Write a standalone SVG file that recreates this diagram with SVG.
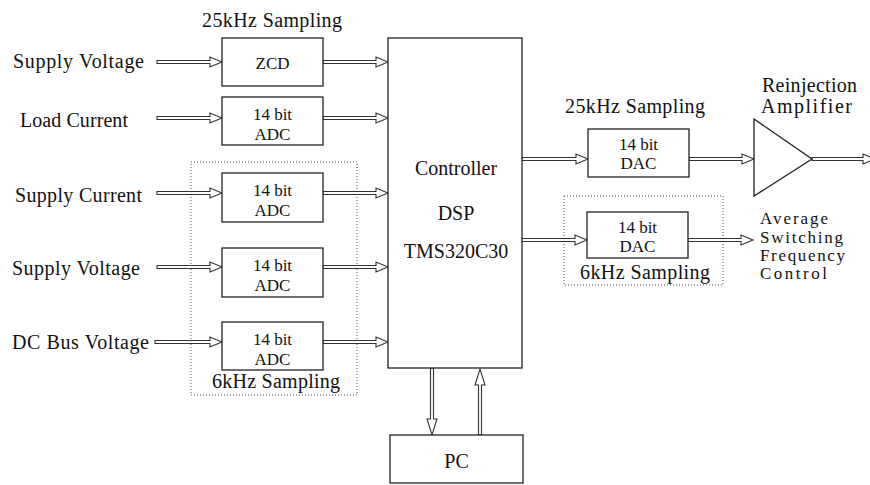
<svg xmlns="http://www.w3.org/2000/svg" width="870" height="485" viewBox="0 0 870 485" font-family="'Liberation Serif', 'Times New Roman', serif">
<style>
.lbl{font-family:"Liberation Serif","Times New Roman",serif;font-size:20px;fill:#111;}
.sm{font-family:"Liberation Serif","Times New Roman",serif;font-size:17px;fill:#111;}
.bx{font-family:"Liberation Serif","Times New Roman",serif;font-size:17px;fill:#111;text-anchor:middle;}
.box{fill:#fff;stroke:#222;stroke-width:1.3;}
.dot{fill:none;stroke:#555;stroke-width:1;stroke-dasharray:1 2;}
.arr{fill:#fff;stroke:#333;stroke-width:1.1;stroke-linejoin:miter;}
</style>
<rect width="870" height="485" fill="#fff"/>
<g id="groups">
<rect class="dot" x="191" y="162" width="166" height="233"/>
<rect class="dot" x="564" y="196" width="159" height="89"/>
<text class="lbl" x="202" y="27" textLength="140" lengthAdjust="spacing">25kHz Sampling</text>
<text class="lbl" x="212" y="388" textLength="128" lengthAdjust="spacing">6kHz Sampling</text>
<text class="lbl" x="565" y="113" textLength="140" lengthAdjust="spacing">25kHz Sampling</text>
<text class="lbl" x="580" y="279" textLength="130" lengthAdjust="spacing">6kHz Sampling</text>
</g>
<g id="inputs">
<text class="lbl" x="13" y="68" textLength="131" lengthAdjust="spacing">Supply Voltage</text>
<text class="lbl" x="20" y="127" textLength="108" lengthAdjust="spacing">Load Current</text>
<text class="lbl" x="15" y="202" textLength="127" lengthAdjust="spacing">Supply Current</text>
<text class="lbl" x="12" y="275" textLength="128" lengthAdjust="spacing">Supply Voltage</text>
<text class="lbl" x="12" y="349" textLength="137" lengthAdjust="spacing">DC Bus Voltage</text>
</g>
<g id="connectors">
<path class="arr" d="M157 60.5H210V57L222 62L210 67V63.5H157Z"/>
<path class="arr" d="M157 116.5H210V113L222 118L210 123V119.5H157Z"/>
<path class="arr" d="M157 191.5H210V188L222 193L210 198V194.5H157Z"/>
<path class="arr" d="M157 265.5H210V262L222 267L210 272V268.5H157Z"/>
<path class="arr" d="M155 340.5H210V337L222 342L210 347V343.5H155Z"/>
<path class="arr" d="M323 60.5H376V57L388 62L376 67V63.5H323Z"/>
<path class="arr" d="M323 116.5H376V113L388 118L376 123V119.5H323Z"/>
<path class="arr" d="M323 191.5H376V188L388 193L376 198V194.5H323Z"/>
<path class="arr" d="M323 265.5H376V262L388 267L376 272V268.5H323Z"/>
<path class="arr" d="M323 340.5H376V337L388 342L376 347V343.5H323Z"/>
<path class="arr" d="M522 157.5H576V154L588 159L576 164V160.5H522Z"/>
<path class="arr" d="M689 157.5H742V154L754 159L742 164V160.5H689Z"/>
<path class="arr" d="M812 157.5H863V154L875 159L863 164V160.5H812Z"/>
<path class="arr" d="M522 238.5H575V235L587 240L575 245V241.5H522Z"/>
<path class="arr" d="M688 238.5H741V235L753 240L741 245V241.5H688Z"/>
<path class="arr" d="M430.5 368V419H427L432 435L437 419H433.5V368Z"/>
<path class="arr" d="M478.5 435V385H475L480 369L485 385H481.5V435Z"/>
</g>
<g id="zcd">
<rect class="box" x="222" y="38" width="101" height="48"/>
<text class="bx" x="272.5" y="69" font-size="18">ZCD</text>
</g>
<g id="adc1">
<rect class="box" x="222" y="97" width="101" height="48"/>
<text class="bx" x="272.5" y="120">14 bit</text>
<text class="bx" x="272.5" y="140">ADC</text>
</g>
<g id="adc2">
<rect class="box" x="222" y="173" width="101" height="49"/>
<text class="bx" x="272.5" y="196">14 bit</text>
<text class="bx" x="272.5" y="216">ADC</text>
</g>
<g id="adc3">
<rect class="box" x="222" y="248" width="101" height="49"/>
<text class="bx" x="272.5" y="271">14 bit</text>
<text class="bx" x="272.5" y="291">ADC</text>
</g>
<g id="adc4">
<rect class="box" x="222" y="322" width="101" height="48"/>
<text class="bx" x="272.5" y="345">14 bit</text>
<text class="bx" x="272.5" y="365">ADC</text>
</g>
<g id="controller">
<rect class="box" x="388" y="38" width="134" height="330"/>
<text class="lbl" x="456" y="175" text-anchor="middle">Controller</text>
<text class="lbl" x="456" y="220" text-anchor="middle">DSP</text>
<text class="lbl" x="456" y="258" text-anchor="middle">TMS320C30</text>
</g>
<g id="dac1">
<rect class="box" x="588" y="129" width="101" height="48"/>
<text class="bx" x="638.5" y="150">14 bit</text>
<text class="bx" x="638.5" y="169">DAC</text>
</g>
<g id="dac2">
<rect class="box" x="587" y="212" width="101" height="46"/>
<text class="bx" x="637.5" y="233">14 bit</text>
<text class="bx" x="637.5" y="252">DAC</text>
</g>
<g id="amplifier">
<path class="box" d="M754 119L812 159L754 196Z"/>
<text class="lbl" x="762" y="92" textLength="95" lengthAdjust="spacing">Reinjection</text>
<text class="lbl" x="761" y="113" textLength="91" lengthAdjust="spacing">Amplifier</text>
</g>
<g id="output">
<text class="sm" x="760" y="224" textLength="68" lengthAdjust="spacing">Average</text>
<text class="sm" x="760" y="243" textLength="83" lengthAdjust="spacing">Switching</text>
<text class="sm" x="760" y="261" textLength="85" lengthAdjust="spacing">Frequency</text>
<text class="sm" x="760" y="279" textLength="67" lengthAdjust="spacing">Control</text>
</g>
<g id="pc">
<rect class="box" x="390" y="435" width="133" height="48"/>
<text class="lbl" x="456.5" y="468" text-anchor="middle">PC</text>
</g>
</svg>
